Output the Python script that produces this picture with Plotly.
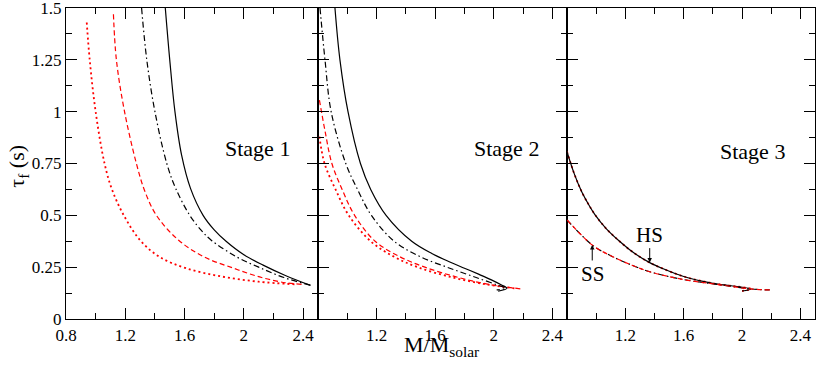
"""
Damping time tau_f versus stellar mass for three evolution stages
"""

import plotly.graph_objects as go

# ---- data (mass in M_solar, tau_f in s) ----
# Stage 1
s1_solid_x = [1.47, 1.50, 1.535, 1.58, 1.64, 1.725, 1.80, 1.88, 2.00, 2.13, 2.28, 2.45]
s1_solid_y = [1.50, 1.25, 1.00, 0.79, 0.63, 0.50, 0.43, 0.375, 0.31, 0.26, 0.21, 0.162]
s1_dashdot_x = [1.31, 1.345, 1.40, 1.48, 1.54, 1.635, 1.71, 1.78, 1.95, 2.10, 2.27, 2.45]
s1_dashdot_y = [1.50, 1.25, 1.00, 0.75, 0.63, 0.50, 0.43, 0.38, 0.30, 0.25, 0.20, 0.163]
s1_dashed_x = [1.12, 1.14, 1.195, 1.275, 1.33, 1.41, 1.56, 1.73, 1.93, 2.12, 2.28, 2.40]
s1_dashed_y = [1.47, 1.25, 1.00, 0.75, 0.62, 0.50, 0.38, 0.30, 0.245, 0.20, 0.175, 0.167]
s1_dotted_x = [0.94, 0.96, 1.00, 1.06, 1.11, 1.19, 1.30, 1.43, 1.61, 1.85, 2.10, 2.35]
s1_dotted_y = [1.43, 1.25, 1.00, 0.75, 0.625, 0.50, 0.38, 0.30, 0.245, 0.205, 0.18, 0.167]

# Stage 2
s2_solid_x = [0.916, 0.95, 1.005, 1.09, 1.16, 1.265, 1.44, 1.58, 1.70, 1.80, 1.90, 1.98, 2.05, 2.09, 2.03]
s2_solid_y = [1.50, 1.25, 1.00, 0.75, 0.625, 0.50, 0.375, 0.315, 0.275, 0.245, 0.215, 0.19, 0.165, 0.148, 0.134]
s2_dashdot_x = [0.814, 0.848, 0.89, 0.99, 1.07, 1.165, 1.32, 1.50, 1.70, 1.88, 2.02, 2.08, 2.02]
s2_dashdot_y = [1.50, 1.25, 1.00, 0.75, 0.625, 0.50, 0.375, 0.30, 0.245, 0.20, 0.165, 0.148, 0.140]
s2_dashed_x = [0.81, 0.85, 0.895, 0.965, 1.05, 1.19, 1.36, 1.53, 1.76, 1.98, 2.19]
s2_dashed_y = [1.056, 0.90, 0.75, 0.625, 0.50, 0.375, 0.30, 0.25, 0.20, 0.165, 0.145]
s2_dotted_x = [0.81, 0.845, 0.92, 1.01, 1.16, 1.32, 1.48, 1.72, 1.95, 2.15]
s2_dotted_y = [0.88, 0.75, 0.625, 0.50, 0.375, 0.30, 0.25, 0.20, 0.167, 0.147]

# Stage 3 (HS and SS curves, black and red nearly on top of each other)
s3_hs_x = [0.80, 0.85, 0.90, 0.95, 0.99, 1.07, 1.16, 1.26, 1.367, 1.45, 1.60, 1.80, 2.06, 2.00]
s3_hs_y = [0.807, 0.70, 0.615, 0.55, 0.505, 0.435, 0.375, 0.318, 0.272, 0.245, 0.205, 0.172, 0.145, 0.135]
s3_ss_x = [0.80, 0.973, 1.10, 1.25, 1.367, 1.60, 1.85, 2.06, 2.19]
s3_ss_y = [0.478, 0.357, 0.305, 0.258, 0.228, 0.19, 0.165, 0.145, 0.140]

stage_labels = ["Stage 1", "Stage 2", "Stage 3"]
x_ticks = [0.8, 1.2, 1.6, 2.0, 2.4]
x_ticktext = ["0.8", "1.2", "1.6", "2", "2.4"]
y_ticks = [0, 0.25, 0.5, 0.75, 1.0, 1.25, 1.5]
y_ticktext = ["0", "0.25", "0.5", "0.75", "1", "1.25", "1.5"]

FONT = "Liberation Serif, Times New Roman, Times, serif"
RED = "#ff0000"
DASHED = "5px,3px"
DOTTED = "2px,3px"
DASHDOT = "6px,3px,1.5px,3px"

fig = go.Figure()


def add_curve(x, y, color, dash, panel, width=1.2):
    suffix = "" if panel == 1 else str(panel)
    fig.add_trace(go.Scatter(
        x=x, y=y, mode="lines",
        line=dict(color=color, width=width, dash=dash, shape="spline", smoothing=1.0),
        xaxis="x" + suffix, yaxis="y" + suffix,
        showlegend=False, hoverinfo="skip",
    ))


add_curve(s1_dotted_x, s1_dotted_y, RED, DOTTED, 1, width=1.8)
add_curve(s1_dashed_x, s1_dashed_y, RED, DASHED, 1)
add_curve(s1_dashdot_x, s1_dashdot_y, "black", DASHDOT, 1)
add_curve(s1_solid_x, s1_solid_y, "black", "solid", 1)

add_curve(s2_dotted_x, s2_dotted_y, RED, DOTTED, 2, width=1.8)
add_curve(s2_dashed_x, s2_dashed_y, RED, DASHED, 2)
add_curve(s2_dashdot_x, s2_dashdot_y, "black", DASHDOT, 2)
add_curve(s2_solid_x, s2_solid_y, "black", "solid", 2)

add_curve(s3_hs_x, s3_hs_y, RED, DOTTED, 3, width=1.8)
add_curve(s3_hs_x, s3_hs_y, "black", "solid", 3)
add_curve(s3_ss_x, s3_ss_y, "black", DASHDOT, 3)
add_curve(s3_ss_x, s3_ss_y, RED, DASHED, 3)

# panel geometry (fractions of plot width)
domains = [[0.0, 0.3364], [0.3364, 0.6689], [0.6689, 1.0]]

axis_common = dict(
    showline=True, linecolor="black", linewidth=1.2, mirror="allticks",
    ticks="inside", ticklen=11, tickwidth=1.2, tickcolor="black",
    showgrid=False, zeroline=False, automargin=False,
    ticklabeloverflow="allow",
    tickfont=dict(family=FONT, size=17, color="black"),
)

layout = dict(
    width=817, height=371,
    margin=dict(l=66, r=2, t=8, b=52),
    plot_bgcolor="white", paper_bgcolor="white",
    font=dict(family=FONT, color="black"),
)

for i, dom in enumerate(domains):
    suffix = "" if i == 0 else str(i + 1)
    layout["xaxis" + suffix] = dict(
        axis_common, domain=dom, range=[0.8, 2.5], anchor="y" + suffix,
        tickmode="array", tickvals=x_ticks if i == 0 else x_ticks[1:],
        ticktext=x_ticktext if i == 0 else x_ticktext[1:],
        minor=dict(ticks="inside", ticklen=6, tickwidth=1.2, tickcolor="black",
                   tick0=0.8, dtick=0.2),
    )
    layout["yaxis" + suffix] = dict(
        axis_common, range=[0, 1.5], anchor="x" + suffix,
        tickmode="array", tickvals=y_ticks, ticktext=y_ticktext,
        showticklabels=(i == 0),
        minor=dict(ticks="inside", ticklen=6, tickwidth=1.2, tickcolor="black",
                   tick0=0, dtick=0.125),
    )

fig.update_layout(**layout)

# stage labels
stage_pos = [(2.09, 0.82), (2.087, 0.82), (2.073, 0.81)]
for i, (label, (sx, sy)) in enumerate(zip(stage_labels, stage_pos)):
    suffix = "" if i == 0 else str(i + 1)
    fig.add_annotation(
        x=sx, y=sy, xref="x" + suffix, yref="y" + suffix, text=label,
        showarrow=False, font=dict(family=FONT, size=22, color="black"),
    )

# HS / SS arrows in stage 3
fig.add_annotation(
    x=1.367, y=0.272, xref="x3", yref="y3", text="HS",
    showarrow=True, ax=0, ay=-28, arrowhead=2, arrowsize=0.9, arrowwidth=1,
    arrowcolor="black", font=dict(family=FONT, size=21, color="black"),
)
fig.add_annotation(
    x=0.973, y=0.357, xref="x3", yref="y3", text="SS",
    showarrow=True, ax=0, ay=29, arrowhead=2, arrowsize=0.9, arrowwidth=1,
    arrowcolor="black", font=dict(family=FONT, size=21, color="black"),
)

# axis titles
fig.add_annotation(
    x=0.5013, y=-0.035, xref="paper", yref="paper", xanchor="center", yanchor="top",
    text="M/M<sub>solar</sub>", showarrow=False,
    font=dict(family=FONT, size=22, color="black"),
)
fig.add_annotation(
    x=-0.064, y=0.49, xref="paper", yref="paper", xanchor="center", yanchor="middle",
    text="τ<sub>f</sub> (s)", textangle=-90, showarrow=False,
    font=dict(family=FONT, size=22, color="black"),
)

# page body has a default 8px margin; drop it so the figure sits at the window origin
fig.write_html("out.html", config={"displayModeBar": False},
               post_script="document.body.style.margin='0px';")
